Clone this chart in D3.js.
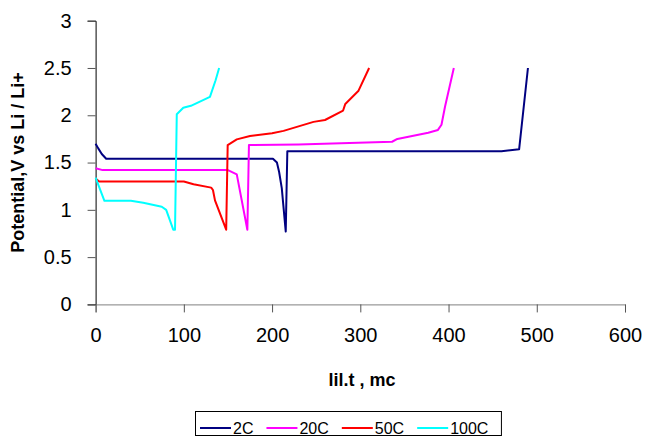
<!DOCTYPE html>
<html>
<head>
<meta charset="utf-8">
<script src="https://cdn.jsdelivr.net/npm/d3@7"></script>
<style>
  body { margin: 0; background: #fff; }
  svg { font-family: "Liberation Sans", Arial, sans-serif; }
</style>
</head>
<body>
<svg width="646" height="436"></svg>
<script>
// series: [time, potential]
const seriesNames = ["2C", "20C", "50C", "100C"];
const seriesColors = ["#000080", "#ff00ff", "#ff0000", "#00ffff"];

const c2 = [[0, 1.70], [3, 1.65], [7, 1.59], [12, 1.54], [201, 1.54], [205.5, 1.50],
  [208, 1.40], [211, 1.23], [215.5, 0.77], [217.3, 1.62], [220, 1.62], [460, 1.62],
  [480, 1.64], [490, 2.50]];
const c20 = [[0, 1.44], [8, 1.42], [150, 1.42], [160, 1.375], [172, 0.79], [173.8, 1.685],
  [230, 1.69], [336, 1.72], [342, 1.75], [356, 1.775], [377, 1.815], [388, 1.845],
  [392, 1.90], [396, 2.09], [406, 2.50]];
const c50 = [[0, 1.33], [4, 1.30], [100, 1.30], [111, 1.27], [131, 1.235], [133, 1.21],
  [135.3, 1.10], [148, 0.79], [149.7, 1.685], [160, 1.745], [175, 1.78], [200, 1.81],
  [213, 1.835], [247, 1.93], [260, 1.95], [280.5, 2.05], [283, 2.12], [298, 2.26],
  [310, 2.50]];
const c100 = [[0, 1.34], [10, 1.095], [40, 1.095], [54, 1.075], [75, 1.033], [80, 1.0],
  [88, 0.79], [90, 0.79], [92, 2.01], [99.4, 2.08], [108, 2.10], [129.6, 2.195],
  [136, 2.37], [140, 2.50]];
const seriesData = [c2, c20, c50, c100];

const xTicks = [0, 100, 200, 300, 400, 500, 600];
const yTicks = [0, 0.5, 1, 1.5, 2, 2.5, 3];

const svg = d3.select("svg");
const plot = { left: 95.6, right: 625, top: 20.7, bottom: 304.4 };

const x = d3.scaleLinear().domain([0, 600]).range([plot.left, plot.right]);
const y = d3.scaleLinear().domain([0, 3]).range([plot.bottom, plot.top]);

// y axis
const yAxis = svg.append("g")
  .attr("transform", `translate(${plot.left},0)`)
  .call(d3.axisLeft(y).tickValues(yTicks).tickSize(8).tickPadding(16)
    .tickFormat(d3.format("")));
yAxis.select(".domain").attr("stroke", "#000");
yAxis.selectAll(".tick line").attr("stroke", "#555");
yAxis.selectAll("text").attr("font-size", 20).attr("fill", "#000");

// x axis
const xAxis = svg.append("g")
  .attr("transform", `translate(0,${plot.bottom})`)
  .call(d3.axisBottom(x).tickValues(xTicks).tickSize(8).tickPadding(15));
xAxis.select(".domain").attr("stroke", "#808080");
xAxis.selectAll(".tick line").attr("stroke", "#555");
xAxis.selectAll("text").attr("font-size", 20).attr("fill", "#000");

// lines
const line = d3.line().x(d => x(d[0])).y(d => y(d[1]));
svg.append("g").selectAll("path")
  .data(seriesData)
  .enter()
  .append("path")
  .attr("d", line)
  .attr("fill", "none")
  .attr("stroke", (d, i) => seriesColors[i])
  .attr("stroke-width", 2)
  .attr("stroke-linejoin", "round");

// axis titles
svg.append("text")
  .attr("transform", `translate(24,${(plot.top + plot.bottom) / 2}) rotate(-90)`)
  .attr("text-anchor", "middle")
  .attr("font-size", 18)
  .attr("font-weight", "bold")
  .text("Potential,V vs Li / Li+");

svg.append("text")
  .attr("x", 362)
  .attr("y", 386)
  .attr("text-anchor", "middle")
  .attr("font-size", 18)
  .attr("font-weight", "bold")
  .text("lil.t , mc");

// legend
const legend = svg.append("g");
const box = legend.append("rect")
  .attr("x", 195.5).attr("y", 411.5)
  .attr("height", 24)
  .attr("fill", "#fff").attr("stroke", "#000").attr("stroke-width", 1);

let cx = 200;
seriesNames.forEach(function (name, i) {
  legend.append("line")
    .attr("x1", cx).attr("x2", cx + 31)
    .attr("y1", 428).attr("y2", 428)
    .attr("stroke", seriesColors[i]).attr("stroke-width", 2);
  const t = legend.append("text")
    .attr("x", cx + 33).attr("y", 433.5)
    .attr("font-size", 16)
    .text(name);
  cx += 33 + t.node().getComputedTextLength() + 13;
});
box.attr("width", cx - 195.5);
</script>
</body>
</html>
